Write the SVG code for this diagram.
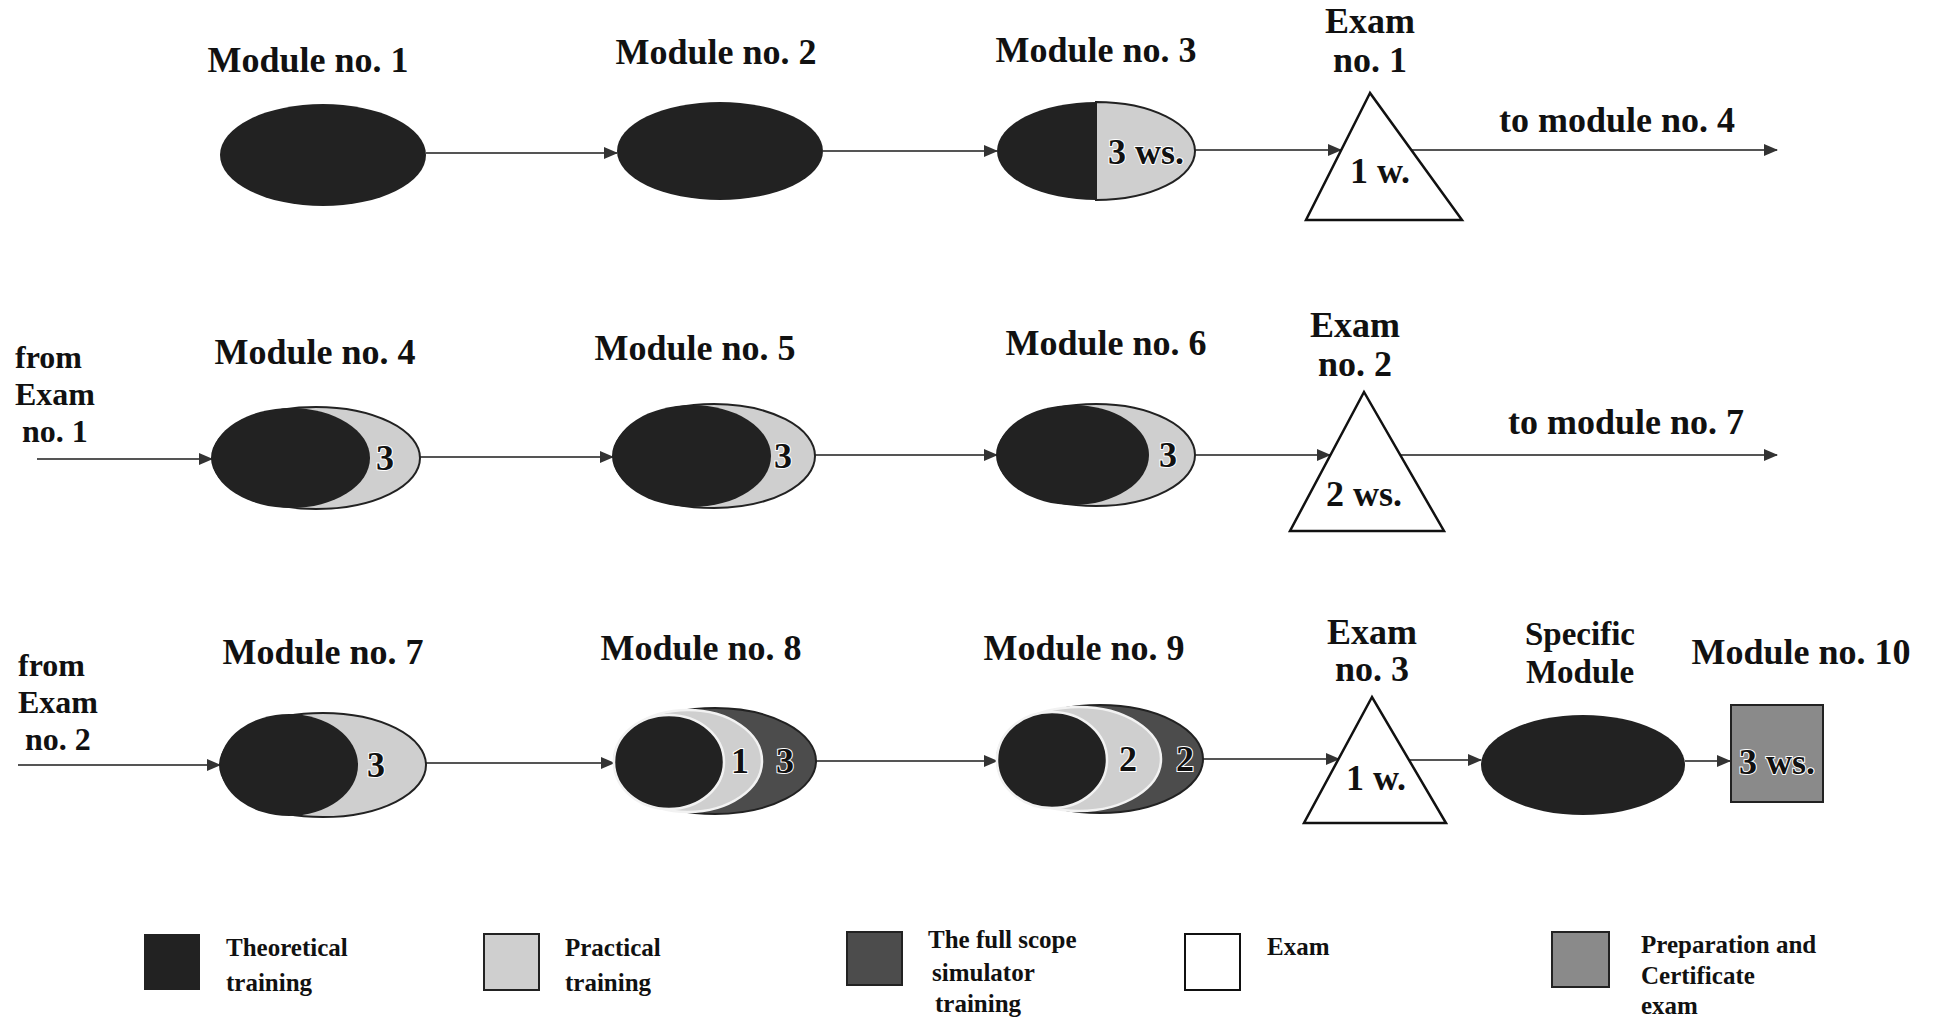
<svg xmlns="http://www.w3.org/2000/svg" width="1935" height="1019" viewBox="0 0 1935 1019">
<style>
.lbl{font-family:"Liberation Serif","Times New Roman",serif;font-weight:bold;font-size:36px;fill:#111;text-anchor:middle}
.side{font-family:"Liberation Serif","Times New Roman",serif;font-weight:bold;font-size:32px;fill:#111}
.num{font-family:"Liberation Serif","Times New Roman",serif;font-weight:bold;font-size:36px;fill:#111;text-anchor:middle;stroke:#fff;stroke-width:2;paint-order:stroke}
.leg{font-family:"Liberation Serif","Times New Roman",serif;font-weight:bold;font-size:25px;fill:#111}
.dark{fill:#222}
.light{fill:#cfcfcf;stroke:#222;stroke-width:2}
.sim{fill:#4c4c4c;stroke:#222;stroke-width:2}
.inner{stroke:#f2f2f2;stroke-width:2.5}
.prep{fill:#8a8a8a;stroke:#222;stroke-width:2}
.tri{fill:#fff;stroke:#111;stroke-width:2.5}
.conn{stroke:#555;stroke-width:1.8;fill:none;marker-end:url(#ah)}
</style>
<defs>
<marker id="ah" markerWidth="14" markerHeight="12" refX="13" refY="6" orient="auto" markerUnits="userSpaceOnUse">
<path d="M0,0 L14,6 L0,12 Z" fill="#333"/>
</marker>
</defs>
<rect width="1935" height="1019" fill="#fff"/>

<g id="connectors">
<line class="conn" x1="426" y1="153" x2="617" y2="153"/>
<line class="conn" x1="823" y1="151" x2="997" y2="151"/>
<line class="conn" x1="1195" y1="150" x2="1341" y2="150"/>
<line class="conn" x1="1411" y1="150" x2="1777" y2="150"/>
<line class="conn" x1="37" y1="459" x2="212" y2="459"/>
<line class="conn" x1="420" y1="457" x2="613" y2="457"/>
<line class="conn" x1="815" y1="455" x2="997" y2="455"/>
<line class="conn" x1="1195" y1="455" x2="1330" y2="455"/>
<line class="conn" x1="1399" y1="455" x2="1777" y2="455"/>
<line class="conn" x1="18" y1="765" x2="220" y2="765"/>
<line class="conn" x1="426" y1="763" x2="614" y2="763"/>
<line class="conn" x1="816" y1="761" x2="997" y2="761"/>
<line class="conn" x1="1203" y1="759" x2="1339" y2="759"/>
<line class="conn" x1="1408" y1="760" x2="1481" y2="760"/>
<line class="conn" x1="1685" y1="761" x2="1730" y2="761"/>
</g>

<g id="module1">
<text class="lbl" x="308" y="72">Module no. 1</text>
<ellipse class="dark" cx="323" cy="155" rx="103" ry="51"/>
</g>
<g id="module2">
<text class="lbl" x="716" y="64">Module no. 2</text>
<ellipse class="dark" cx="720" cy="151" rx="103" ry="49"/>
</g>
<g id="module3">
<text class="lbl" x="1096" y="62">Module no. 3</text>
<path class="light" d="M1096,102 A99,49 0 0 1 1096,200 Z"/>
<path class="dark" d="M1096,102 A99,49 0 0 0 1096,200 Z"/>
<text class="num" x="1146" y="164">3 ws.</text>
</g>
<g id="exam1">
<text class="lbl" x="1370" y="33">Exam</text>
<text class="lbl" x="1370" y="72">no. 1</text>
<polygon class="tri" points="1370,93 1306,220 1462,220"/>
<text class="lbl" x="1380" y="183">1 w.</text>
</g>
<text class="lbl" x="1617" y="132">to module no. 4</text>

<text class="side" x="15" y="368">from</text>
<text class="side" x="15" y="405">Exam</text>
<text class="side" x="22" y="442">no. 1</text>
<g id="module4">
<text class="lbl" x="315" y="364">Module no. 4</text>
<ellipse class="light" cx="316" cy="458" rx="104" ry="51"/>
<ellipse class="dark" cx="291" cy="458" rx="79" ry="50"/>
<text class="num" x="385" y="470">3</text>
</g>
<g id="module5">
<text class="lbl" x="695" y="360">Module no. 5</text>
<ellipse class="light" cx="714" cy="456" rx="101" ry="52"/>
<ellipse class="dark" cx="692" cy="456" rx="79" ry="51"/>
<text class="num" x="783" y="468">3</text>
</g>
<g id="module6">
<text class="lbl" x="1106" y="355">Module no. 6</text>
<ellipse class="light" cx="1096" cy="455" rx="99" ry="51"/>
<ellipse class="dark" cx="1073" cy="455" rx="76" ry="50"/>
<text class="num" x="1168" y="467">3</text>
</g>
<g id="exam2">
<text class="lbl" x="1355" y="337">Exam</text>
<text class="lbl" x="1355" y="376">no. 2</text>
<polygon class="tri" points="1364,392 1290,531 1444,531"/>
<text class="lbl" x="1364" y="506">2 ws.</text>
</g>
<text class="lbl" x="1626" y="434">to module no. 7</text>

<text class="side" x="18" y="676">from</text>
<text class="side" x="18" y="713">Exam</text>
<text class="side" x="25" y="750">no. 2</text>
<g id="module7">
<text class="lbl" x="323" y="664">Module no. 7</text>
<ellipse class="light" cx="323" cy="765" rx="103" ry="52"/>
<ellipse class="dark" cx="289" cy="765" rx="69" ry="51"/>
<text class="num" x="376" y="777">3</text>
</g>
<g id="module8">
<text class="lbl" x="701" y="660">Module no. 8</text>
<ellipse class="sim" cx="715" cy="761" rx="101" ry="53"/>
<ellipse class="light inner" cx="688" cy="761" rx="74" ry="51"/>
<ellipse class="dark inner" cx="669" cy="762" rx="55" ry="47"/>
<text class="num" x="740" y="773">1</text>
<text class="num" x="785" y="773">3</text>
</g>
<g id="module9">
<text class="lbl" x="1084" y="660">Module no. 9</text>
<ellipse class="sim" cx="1100" cy="759" rx="103" ry="54"/>
<ellipse class="light inner" cx="1079" cy="759" rx="82" ry="52"/>
<ellipse class="dark inner" cx="1052" cy="760" rx="55" ry="48"/>
<text class="num" x="1128" y="771">2</text>
<text class="num" x="1185" y="771">2</text>
</g>
<g id="exam3">
<text class="lbl" x="1372" y="644">Exam</text>
<text class="lbl" x="1372" y="681">no. 3</text>
<polygon class="tri" points="1372,697 1304,823 1446,823"/>
<text class="lbl" x="1376" y="790">1 w.</text>
</g>
<g id="specific">
<text class="lbl" x="1580" y="645" style="font-size:33px">Specific</text>
<text class="lbl" x="1580" y="683" style="font-size:33px">Module</text>
<ellipse class="dark" cx="1583" cy="765" rx="102" ry="50"/>
</g>
<g id="module10">
<text class="lbl" x="1801" y="664">Module no. 10</text>
<rect class="prep" x="1731" y="705" width="92" height="97"/>
<text class="num" x="1777" y="774">3 ws.</text>
</g>

<g id="legend">
<rect class="dark" x="144" y="934" width="56" height="56"/>
<text class="leg" x="226" y="956">Theoretical</text>
<text class="leg" x="226" y="991">training</text>
<rect class="light" x="484" y="934" width="55" height="56"/>
<text class="leg" x="565" y="956">Practical</text>
<text class="leg" x="565" y="991">training</text>
<rect class="sim" x="847" y="932" width="55" height="53"/>
<text class="leg" x="928" y="948">The full scope</text>
<text class="leg" x="932" y="981">simulator</text>
<text class="leg" x="935" y="1012">training</text>
<rect class="tri" style="stroke-width:2" x="1185" y="934" width="55" height="56"/>
<text class="leg" x="1267" y="955">Exam</text>
<rect class="prep" x="1552" y="932" width="57" height="55"/>
<text class="leg" x="1641" y="953">Preparation and</text>
<text class="leg" x="1641" y="984">Certificate</text>
<text class="leg" x="1641" y="1014">exam</text>
</g>
</svg>
